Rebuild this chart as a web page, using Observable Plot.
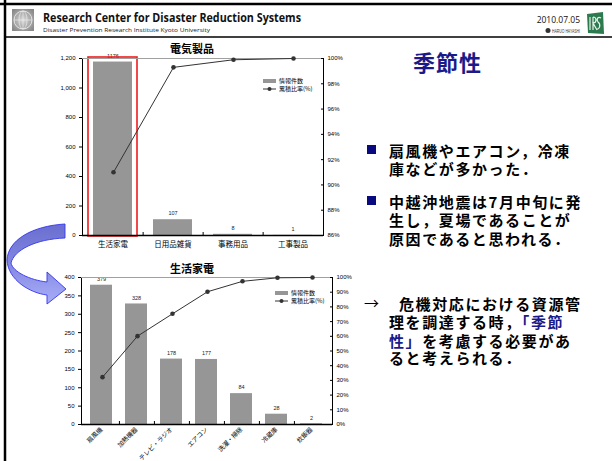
<!DOCTYPE html>
<html>
<head>
<meta charset="utf-8">
<script src="https://cdn.jsdelivr.net/npm/d3@7"></script>
<script src="https://cdn.jsdelivr.net/npm/@observablehq/plot@0.6"></script>
<style>
  html, body { margin: 0; padding: 0; background: #fff; }
  #slide { position: relative; width: 612px; height: 461px; overflow: hidden; background: #fff;
           font-family: "Noto Sans CJK JP", "Liberation Sans", sans-serif; }
  .abs { position: absolute; white-space: nowrap; }
  .ctitle { font-weight: bold; font-size: 11px; line-height: 12px; color: #000; text-align: center; width: 120px; }
  .legend { font-size: 6px; color: #000; line-height: 6px; white-space: nowrap; }
  .legend .row { display: flex; align-items: center; height: 8px; }
  .legend .sw { display: inline-block; width: 13px; height: 4px; background: #969696; margin-right: 3px; }
  .legend svg { margin-right: 3px; }
  .body { font-weight: bold; font-size: 15px; color: #000; letter-spacing: 1.6px; line-height: 15px; }
  .navy { color: #1a1a8a; }
  .bullet { position: absolute; width: 9px; height: 9px; background: #0a0a80; }
</style>
</head>
<body>
<div id="slide"></div>
<script>
// Electrical goods: categories, report counts, cumulative share (%)
const elecCats = ["生活家電", "日用品雑貨", "事務用品", "工事製品"];
const elecCounts = [1176, 107, 8, 1];
const elecCum = [91.0, 99.3, 99.9, 100];
const elecLeftTicks = [0, 200, 400, 600, 800, 1000, 1200];
const elecRightTicks = [86, 88, 90, 92, 94, 96, 98, 100];

// Household appliances: categories, report counts, cumulative share (%)
const homeCats = ["扇風機", "加熱機器", "テレビ・ラジオ", "エアコン", "洗濯・掃除", "冷蔵庫", "炊飯器"];
const homeCounts = [379, 328, 178, 177, 84, 28, 2];
const homeCum = [32.2, 60.1, 75.3, 90.3, 97.4, 99.8, 100];
const homeLeftTicks = [0, 50, 100, 150, 200, 250, 300, 350, 400];
const homeRightTicks = [0, 10, 20, 30, 40, 50, 60, 70, 80, 90, 100];

const highlighted = ["生活家電"];
const legendLabels = ["情報件数", "累積比率(%)"];

const slide = document.getElementById("slide");
const numFont = "'Liberation Sans', 'Noto Sans CJK JP', sans-serif";
const barColor = "#969696";
const lineColor = "#333333";

function place(node, left, top) {
  node.style.position = "absolute";
  node.style.left = left + "px";
  node.style.top = top + "px";
  slide.appendChild(node);
  return node;
}

// ---------- slide frame, header and connecting arrow ----------
const header = document.createElementNS("http://www.w3.org/2000/svg", "svg");
header.setAttribute("width", 612);
header.setAttribute("height", 461);
header.innerHTML = `
  <defs>
    <radialGradient id="globe" cx="50%" cy="50%" r="60%">
      <stop offset="0" stop-color="#d8d8d8"/><stop offset="1" stop-color="#8a8a8a"/>
    </radialGradient>
    <linearGradient id="arrowFill" x1="0" y1="0" x2="0" y2="1">
      <stop offset="0" stop-color="#6a6fd0"/><stop offset="0.45" stop-color="#7f84e0"/><stop offset="1" stop-color="#a9aef8"/>
    </linearGradient>
  </defs>
  <line x1="0" y1="4" x2="612" y2="4" stroke="#000" stroke-width="2.5"/>
  <line x1="5" y1="0" x2="5" y2="461" stroke="#000" stroke-width="2.5"/>
  <line x1="5" y1="37" x2="612" y2="37" stroke="#000" stroke-width="1.5"/>
  <rect x="12" y="9" width="22" height="22" fill="url(#globe)"/>
  <circle cx="23" cy="20" r="9" fill="none" stroke="#f2f2f2" stroke-width="0.8"/>
  <ellipse cx="23" cy="20" rx="4" ry="9" fill="none" stroke="#f2f2f2" stroke-width="0.6"/>
  <line x1="14" y1="20" x2="32" y2="20" stroke="#f2f2f2" stroke-width="0.6"/>
  <line x1="23" y1="11" x2="23" y2="29" stroke="#f2f2f2" stroke-width="0.6"/>
  <text x="43" y="22" font-family="'Open Sans', sans-serif" font-weight="bold" font-size="12" textLength="258" lengthAdjust="spacingAndGlyphs" fill="#111">Research Center for Disaster Reduction Systems</text>
  <text x="43" y="31.5" font-family="'Open Sans', sans-serif" font-size="6" textLength="167" lengthAdjust="spacingAndGlyphs" fill="#222">Disaster Prevention Research Institute Kyoto University</text>
  <text x="580" y="23" text-anchor="end" font-family="'Open Sans', sans-serif" font-size="8.5" fill="#111">2010.07.05</text>
  <circle cx="548" cy="30.5" r="2.5" fill="#333"/>
  <text x="580" y="32.5" text-anchor="end" font-family="'Liberation Sans', sans-serif" font-size="5.5" textLength="28" lengthAdjust="spacingAndGlyphs" fill="#333">HARUO HAYASHI</text>
  <path d="M587,14 L603,12 L604,34 L588,33 Z" fill="#2d7a4e"/>
  <path d="M590,17 L590,30 M593,17 L593,30 M593,17 C597,17 597,23 593,23 L597,30 M601,18 C598,16 596,19 598,22 C601,24 600,30 596,29"
        fill="none" stroke="#e8f3ec" stroke-width="1.2"/>
  <path d="M65,224 C32,226 8,240 7,260 C8,280 30,293 47,295 L47,304 L66,289 L47,272 L47,282 C30,280 13,272 11,263 C14,250 36,239 65,238 Z"
        fill="url(#arrowFill)" stroke="#3535ee" stroke-width="0.9"/>
`;
place(header, 0, 0);

// ---------- Pareto chart: bars (left axis) + cumulative line (right axis) ----------
function pareto({cats, counts, cum, leftTicks, rightTicks, rightDomain, left, top, width, height,
                 margins, padding, xLabelSize, rotate, highlight}) {
  const bars = cats.map((c, i) => ({cat: c, count: counts[i]}));
  const line = cats.map((c, i) => ({cat: c, cum: cum[i]}));
  const yMax = d3.max(leftTicks);
  const [ml, mr, mt, mb] = margins;
  const plotW = width - ml - mr, plotH = height - mt - mb;
  const step = plotW / cats.length;
  const common = {
    width, height, marginLeft: ml, marginRight: mr, marginTop: mt, marginBottom: mb,
    style: {background: "transparent", fontFamily: numFont, color: "#000", overflow: "visible"}
  };
  const xScale = {domain: cats, paddingInner: padding, paddingOuter: padding / 2, axis: null, label: null};

  const barPlot = Plot.plot({
    ...common,
    x: xScale,
    y: {domain: [0, yMax], axis: null, label: null},
    marks: [
      Plot.barY(bars, {x: "cat", y: "count", fill: barColor}),
      Plot.text(bars, {x: "cat", y: "count", text: d => String(d.count), dy: -6, fontSize: 5.5, fill: "#222"}),
      highlight ? Plot.barY(bars.filter(d => highlight.includes(d.cat)),
        {x: "cat", y: () => yMax, fill: "none", stroke: "#ee1c1c", strokeWidth: 1.6,
         insetLeft: -5, insetRight: -5, insetBottom: -1, insetTop: -1}) : null,
      Plot.frame({stroke: "#000", strokeWidth: 1}),
      Plot.ruleY([yMax], {stroke: "#a0a0a0", strokeWidth: 1.2}),
      Plot.ruleY([0], {stroke: "#000", strokeWidth: 1.6}),
      // small inward ticks on the category axis, between neighbouring categories
      Plot.ruleX(cats.slice(0, -1), {x: d => d, dx: step / 2, insetTop: plotH - 3, stroke: "#000", strokeWidth: 1}),
      Plot.axisY({ticks: leftTicks, tickFormat: d3.format(","), tickSize: 3, tickPadding: 4,
                  fontSize: 6, label: null}),
      rotate
        ? Plot.axisX({tickSize: 0, tickPadding: 4, tickRotate: -45, fontSize: 6.3, label: null,
                      fontFamily: "'Noto Sans CJK JP', sans-serif"})
        : Plot.axisX({tickSize: 0, tickPadding: 6, fontSize: xLabelSize, label: null,
                      fontFamily: "'Noto Sans CJK JP', sans-serif"})
    ].filter(Boolean)
  });
  place(barPlot, left, top);

  const linePlot = Plot.plot({
    ...common,
    x: xScale,
    y: {domain: rightDomain, axis: null, label: null},
    marks: [
      Plot.line(line, {x: "cat", y: "cum", stroke: lineColor, strokeWidth: 1}),
      Plot.dot(line, {x: "cat", y: "cum", r: 2.3, fill: lineColor, stroke: "none"}),
      Plot.axisY({anchor: "right", ticks: rightTicks, tickFormat: d => d + "%", tickSize: -3,
                  tickPadding: 7, fontSize: 6, label: null})
    ]
  });
  place(linePlot, left, top);
}

pareto({
  cats: elecCats, counts: elecCounts, cum: elecCum,
  leftTicks: elecLeftTicks, rightTicks: elecRightTicks, rightDomain: [86, 100],
  left: 30, top: 40, width: 330, height: 215, margins: [52, 37, 18, 20],
  padding: 0.35, xLabelSize: 7.5, rotate: false, highlight: highlighted
});

pareto({
  cats: homeCats, counts: homeCounts, cum: homeCum,
  leftTicks: homeLeftTicks, rightTicks: homeRightTicks, rightDomain: [0, 100],
  left: 30, top: 255, width: 340, height: 206, margins: [51, 38, 22, 37],
  padding: 0.36, rotate: true, highlight: null
});

// chart titles
function chartTitle(text, cx, cy) {
  const d = document.createElement("div");
  d.className = "ctitle";
  d.textContent = text;
  place(d, cx - 60, cy - 6);
}
chartTitle("電気製品", 192, 48);
chartTitle("生活家電", 192, 268);

// legends
function legend(left, top) {
  const d = document.createElement("div");
  d.className = "legend";
  d.innerHTML = `
    <div class="row"><span class="sw"></span>${legendLabels[0]}</div>
    <div class="row"><svg width="13" height="6"><line x1="0" y1="3" x2="13" y2="3" stroke="${lineColor}" stroke-width="1"/><circle cx="6.5" cy="3" r="2" fill="${lineColor}"/></svg>${legendLabels[1]}</div>`;
  place(d, left, top);
}
legend(263, 77);
legend(275, 289);

// ---------- text panel, one line per row ----------
const rows = [
  {y: 150, x: 389, html: "扇風機やエアコン，冷凍"},
  {y: 168, x: 389, html: "庫などが多かった．"},
  {y: 201, x: 389, html: "中越沖地震は7月中旬に発"},
  {y: 219, x: 389, html: "生し，夏場であることが"},
  {y: 238, x: 389, html: "原因であると思われる．"},
  {y: 303, x: 399, html: "危機対応における資源管"},
  {y: 321, x: 389, html: "理を調達する時，<span class=\"navy\">「季節</span>"},
  {y: 340, x: 389, html: "<span class=\"navy\">性」</span>を考慮する必要があ"},
  {y: 357, x: 389, html: "ると考えられる．"}
];
const panel = document.createElement("div");
panel.innerHTML =
  `<div class="abs navy" style="left:413px;top:50px;font-size:22px;line-height:22px;font-weight:bold;letter-spacing:1px;">季節性</div>` +
  `<div class="bullet" style="left:367px;top:145px;"></div>` +
  `<div class="bullet" style="left:367px;top:196px;"></div>` +
  `<div class="abs body" style="left:364px;top:295px;font-weight:normal;">→</div>` +
  rows.map(r => `<div class="abs body" style="left:${r.x}px;top:${r.y - 7.5}px;">${r.html}</div>`).join("");
place(panel, 0, 0);
</script>
</body>
</html>
